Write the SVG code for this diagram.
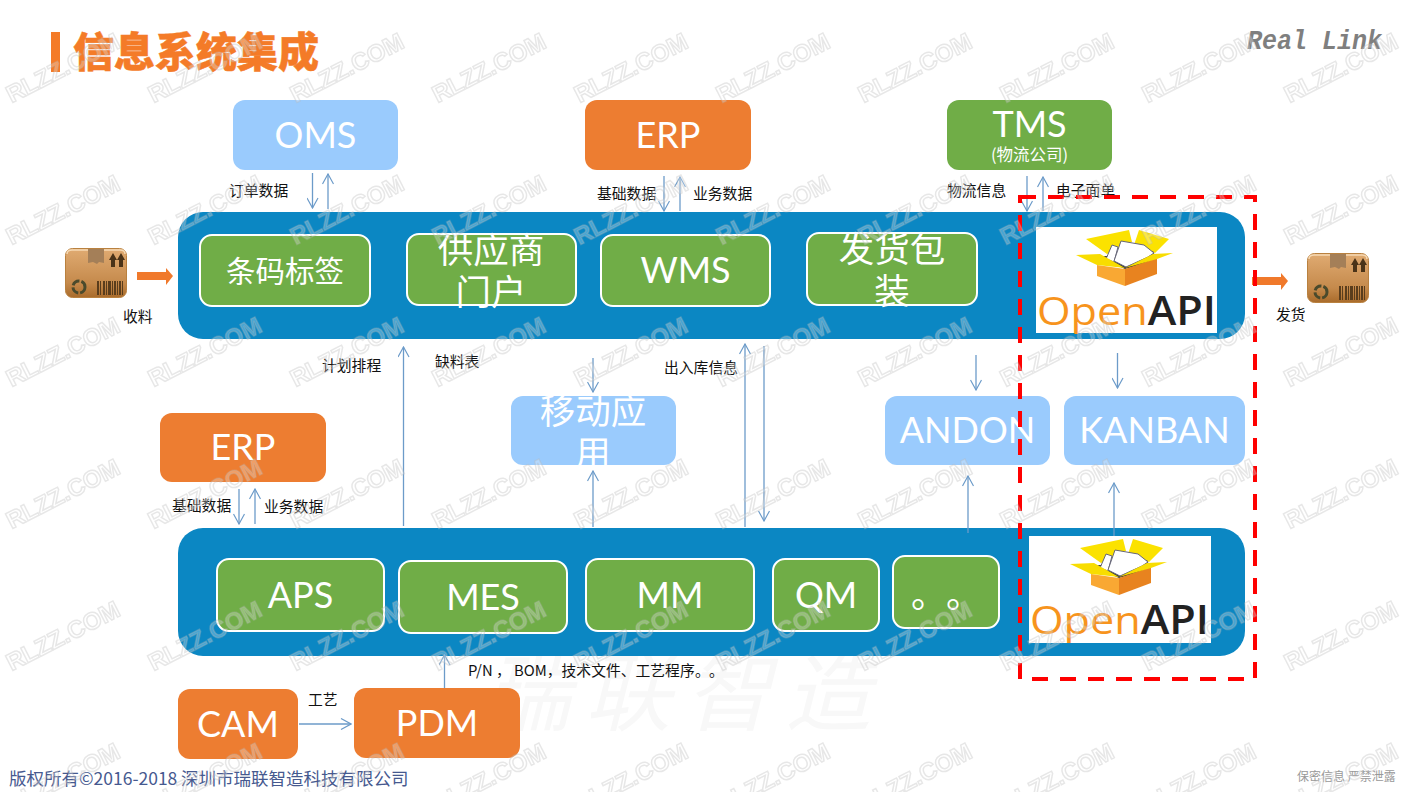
<svg xmlns="http://www.w3.org/2000/svg" width="1410" height="792" viewBox="0 0 1410 792">
<style>
text{font-family:"Noto Sans CJK SC","Noto Sans",sans-serif}
.n{font-family:Lato,"Noto Sans CJK SC",sans-serif;font-size:36px;fill:#fff;text-anchor:middle}
.cjk{font-family:"Noto Sans CJK SC",sans-serif;font-size:35.500px;fill:#fff;text-anchor:middle}
.lab{font-size:14.800px;fill:#111}
.blue{fill:#9acbfd}.org{fill:#ed7d31}.grn{fill:#70ad47}
.inner{fill:#70ad47;stroke:#fff;stroke-width:2}
.bar{fill:#0b87c3}
.c{fill:none;stroke:#6c9bc9;stroke-width:1.3;marker-end:url(#ah)}
.logoT{font-family:"Open Sans",sans-serif;font-size:39px}
.lo{fill:#f7941d}.la{fill:#222;font-weight:600}
</style>
<defs>
<marker id="ah" viewBox="0 0 12 12" refX="11" refY="6" markerWidth="12" markerHeight="12" markerUnits="userSpaceOnUse" orient="auto">
<path d="M1 .5L11 6L1 11.5" fill="none" stroke="#6c9bc9" stroke-width="1.2"/>
</marker>
<linearGradient id="bx" x1="0" y1="0" x2="0" y2="1"><stop offset="0" stop-color="#e0ab72"/><stop offset=".7" stop-color="#c58a4c"/><stop offset="1" stop-color="#a96b2b"/></linearGradient>
<pattern id="wm" patternUnits="userSpaceOnUse" width="142" height="142" x="-8" y="-3">
<text transform="translate(71 71) rotate(-27)" text-anchor="middle" y="8" style="font-family:'Liberation Sans',sans-serif;font-size:24px;font-weight:bold;fill:#fff;fill-opacity:.25;stroke:#b4b4b4;stroke-opacity:.32;stroke-width:1.500">RLZZ.COM</text>
</pattern>
<g id="box">
<rect x=".5" y=".5" width="61" height="49" rx="7" fill="url(#bx)" stroke="#b9813f"/>
<path d="M2 6Q2 2 7 2H55Q60 2 60 6" fill="none" stroke="#f6d9b4" stroke-width="1.500"/>
<path d="M23 1H39V15L34 14L32 16L28 14L23 15Z" fill="#a47f58"/>
<path d="M46 19V12L44 12L48 5L52 12L50 12V19ZM54 19V12L52 12L56 5L60 12L58 12V19Z" fill="#4a3318"/>
<path d="M32 33h2v14h-2zM35 33h1v14h-1zM38 33h2v14h-2zM41 33h1v14h-1zM43 33h3v14h-3zM47 33h1v14h-1zM49 33h2v14h-2zM52 33h1v14h-1zM54 33h2v14h-2zM57 33h1v14h-1z" fill="#5a3d1c"/>
<circle cx="14" cy="39" r="6" fill="none" stroke="#4a4a2c" stroke-width="3" stroke-dasharray="8 2"/>
</g>
<g id="oa">
<path d="M50 12L93 3L96 15L71 27ZM103 3L133 12L119 26L98 18Z" fill="#fbe200"/>
<path d="M61 30L117 24L121 33L89 42Z" fill="#333"/>
<path d="M70 32L76 18L82 20L78 35Z" fill="#fff" stroke="#667" stroke-width="1"/>
<path d="M78 34L85 14L108 18L118 26L112 30L90 40Z" fill="#fff" stroke="#667" stroke-width="1"/>
<path d="M61 38L89 42V59L61 49Z" fill="#f9a833"/>
<path d="M89 42L121 31V47L89 59Z" fill="#e8831f"/>
<path d="M40 28L64 27L89 41L61 38Z" fill="#f8dd00"/>
<path d="M89 41L117 27L137 26L121 32Z" fill="#f8dd00"/>
</g>
</defs>
<rect width="1410" height="792" fill="#fff"/>
<text x="485" y="724" style="font-size:86px;letter-spacing:14px;fill:#f8f8f8;font-style:italic">瑞联智造</text>

<g id="title">
<rect x="51" y="32" width="9" height="40" fill="#f47b28"/>
<text x="73" y="67" style="font-size:41px;font-weight:900;fill:#f47b28;stroke:#f47b28;stroke-width:.5">信息系统集成</text>
</g>
<text id="brand" x="1247" y="49" textLength="135" lengthAdjust="spacingAndGlyphs" style="font-family:'Liberation Mono',monospace;font-size:27px;font-style:italic;font-weight:bold;fill:#7f7f7f">Real Link</text>

<g id="bar-top"><rect class="bar" x="178" y="212" width="1067" height="127" rx="25"/></g>
<g id="bar-bottom"><rect class="bar" x="178" y="528" width="1067" height="128" rx="25"/></g>

<g id="connectors">
<path class="c" d="M312.500 173V208"/><path class="c" d="M328 209V174"/>
<path class="c" d="M664 176V211"/><path class="c" d="M680 211V177"/>
<path class="c" d="M1027 176V211"/><path class="c" d="M1043 211V177"/>
<path class="c" d="M403.500 526V347"/>
<path class="c" d="M593 358V392"/><path class="c" d="M593 527V471"/>
<path class="c" d="M745 527V344"/><path class="c" d="M764 346V521"/>
<path class="c" d="M976 355V390"/><path class="c" d="M1117.500 353V388"/>
<path class="c" d="M968 533V476"/><path class="c" d="M1114 538V483"/>
<path class="c" d="M239 489V524"/><path class="c" d="M255 524V489"/>
<path class="c" d="M444.500 688V655"/><path class="c" d="M299 724H351"/>
<path d="M137 272H166V268L173 276L166 285V280H137Z" fill="#f0792b"/>
<path d="M1252 277H1281V273L1288 281L1281 290V285H1252Z" fill="#f0792b"/>
</g>

<g id="oms"><rect class="blue" x="233" y="100" width="165" height="70" rx="12"/><text class="n" x="315.500" y="148">OMS</text></g>
<g id="erp-top"><rect class="org" x="585" y="100" width="166" height="70" rx="12"/><text class="n" x="668" y="148">ERP</text></g>
<g id="tms"><rect class="grn" x="947" y="100" width="165" height="70" rx="12"/><text class="n" x="1029.500" y="137">TMS</text><text x="1029.500" y="161" style="font-size:16.500px;fill:#fff;text-anchor:middle">(物流公司)</text></g>
<g id="barcode"><rect class="inner" x="200" y="235" width="170" height="71" rx="12"/><text class="cjk" style="font-size:29.500px" x="285" y="282">条码标签</text></g>
<g id="supplier"><rect class="inner" x="407" y="234" width="169" height="71" rx="12"/><text class="cjk" x="491" y="263">供应商</text><text class="cjk" x="491" y="305">门户</text></g>
<g id="wms"><rect class="inner" x="601" y="235" width="169" height="71" rx="12"/><text class="n" x="685.500" y="283">WMS</text></g>
<g id="ship"><rect class="inner" x="807" y="233" width="170" height="72" rx="12"/><text class="cjk" x="892" y="262">发货包</text><text class="cjk" x="892" y="304">装</text></g>
<g id="openapi-top"><rect x="1036" y="227" width="181" height="106" fill="#fff"/><use href="#oa" x="1036" y="227"/><text class="logoT" x="1037" y="325" textLength="179" lengthAdjust="spacingAndGlyphs"><tspan class="lo">Open</tspan><tspan class="la">API</tspan></text></g>

<g id="erp-left"><rect class="org" x="160" y="413" width="166" height="69" rx="12"/><text class="n" x="243" y="460">ERP</text></g>
<g id="mobile"><rect class="blue" x="511" y="396" width="165" height="69" rx="12"/><text class="cjk" x="593" y="424">移动应</text><text class="cjk" x="593" y="466">用</text></g>
<g id="andon"><rect class="blue" x="885" y="396" width="165" height="69" rx="12"/><text class="n" x="967.500" y="443">ANDON</text></g>
<g id="kanban"><rect class="blue" x="1064" y="396" width="181" height="69" rx="12"/><text class="n" x="1154.500" y="443">KANBAN</text></g>

<g id="aps"><rect class="inner" x="217" y="559" width="167" height="72" rx="12"/><text class="n" x="300.500" y="608">APS</text></g>
<g id="mes"><rect class="inner" x="399" y="561" width="168" height="72" rx="12"/><text class="n" x="483" y="610">MES</text></g>
<g id="mm"><rect class="inner" x="586" y="559" width="168" height="72" rx="12"/><text class="n" x="670" y="608">MM</text></g>
<g id="qm"><rect class="inner" x="773" y="559" width="106" height="72" rx="12"/><text class="n" x="826" y="608">QM</text></g>
<g id="more"><rect class="inner" x="893" y="556" width="106" height="72" rx="12"/><text x="911 946" y="608" style="font-size:36px;fill:#fff">。。</text></g>
<g id="openapi-bottom"><rect x="1029" y="536" width="182" height="107" fill="#fff"/><use href="#oa" x="1030" y="536"/><text class="logoT" x="1030" y="634" textLength="179" lengthAdjust="spacingAndGlyphs"><tspan class="lo">Open</tspan><tspan class="la">API</tspan></text></g>

<g id="cam"><rect class="org" x="178" y="689" width="120" height="70" rx="12"/><text class="n" x="238" y="737">CAM</text></g>
<g id="pdm"><rect class="org" x="354" y="688" width="166" height="70" rx="12"/><text class="n" x="437" y="736">PDM</text></g>

<g id="box-in"><use href="#box" x="65" y="248"/></g>
<g id="box-out"><use href="#box" x="1307" y="253"/></g>

<g id="labels">
<text class="lab" x="229" y="196">订单数据</text>
<text class="lab" x="597" y="199">基础数据</text>
<text class="lab" x="693" y="199">业务数据</text>
<text class="lab" x="947" y="196">物流信息</text>
<text class="lab" x="1056" y="196">电子面单</text>
<text class="lab" x="123" y="322">收料</text>
<text class="lab" x="1276" y="320">发货</text>
<text class="lab" x="322" y="371">计划排程</text>
<text class="lab" x="435" y="367">缺料表</text>
<text class="lab" x="664" y="373">出入库信息</text>
<text class="lab" x="172" y="511">基础数据</text>
<text class="lab" x="264" y="512">业务数据</text>
<text class="lab" x="308" y="705">工艺</text>
<text class="lab" x="468" y="676">P/N ， BOM，技术文件、工艺程序<tspan x="695">。</tspan><tspan x="709">。</tspan></text>
</g>

<rect id="highlight" x="1020" y="197" width="235" height="482" fill="none" stroke="#f00" stroke-width="4" stroke-dasharray="16 12"/>

<text id="footer" x="9" y="785" style="font-size:17.500px;fill:#46598f">版权所有©2016-2018<tspan x="181">深圳市瑞联智造科技有限公司</tspan></text>
<text id="secret" x="1297" y="781" style="font-size:12px;fill:#999">保密信息 严禁泄露</text>

<rect id="watermark" width="1410" height="792" fill="url(#wm)"/>
</svg>
